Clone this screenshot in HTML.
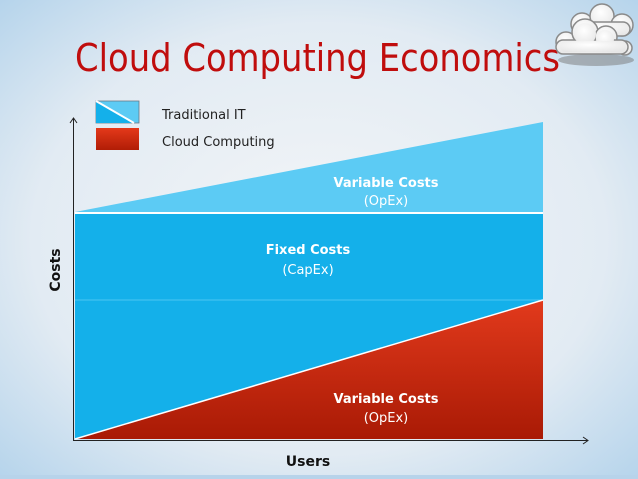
<!DOCTYPE html>
<html><head><meta charset="utf-8"><style>
html,body{margin:0;padding:0;width:638px;height:479px;overflow:hidden}
</style></head><body>
<svg width="638" height="479" viewBox="0 0 638 479" xmlns="http://www.w3.org/2000/svg" font-family="'DejaVu Sans','Liberation Sans',sans-serif">
<defs>
<radialGradient id="bg" cx="0.5" cy="0.5" r="0.75">
<stop offset="0" stop-color="#f3f5f7"/><stop offset="0.6" stop-color="#e2ebf3"/><stop offset="1" stop-color="#aed0ea"/>
</radialGradient>
<linearGradient id="red" x1="0" y1="0" x2="0" y2="1">
<stop offset="0" stop-color="#e23a1c"/><stop offset="1" stop-color="#a91a05"/>
</linearGradient>
<linearGradient id="lred" x1="0" y1="0" x2="0" y2="1">
<stop offset="0" stop-color="#e4391a"/><stop offset="1" stop-color="#b11d06"/>
</linearGradient>
<radialGradient id="cl" cx="0.45" cy="0.35" r="0.7"><stop offset="0" stop-color="#fff"/><stop offset="1" stop-color="#e6e6e6"/></radialGradient>
</defs>
<rect width="638" height="479" fill="url(#bg)"/>
<rect y="475" width="638" height="4" fill="#b7d3ea"/>
<!-- title -->
<text x="75" y="71" font-family="'DejaVu Sans Condensed','DejaVu Sans',sans-serif" font-size="38" fill="#c00d0d" textLength="485" lengthAdjust="spacingAndGlyphs">Cloud Computing Economics</text>
<!-- clouds -->
<ellipse cx="596" cy="60" rx="38" ry="6" fill="#777" opacity="0.5"/>
<g stroke="#8a8a8a" stroke-width="1.5" fill="url(#cl)">
<circle cx="582" cy="24" r="11"/><circle cx="602" cy="16" r="12"/><circle cx="622" cy="25" r="11"/><rect x="575" y="22" width="55" height="14" rx="7"/>
</g>
<g stroke="#8a8a8a" stroke-width="1.5" fill="url(#cl)">
<circle cx="566" cy="42" r="10"/><circle cx="585" cy="32" r="13"/><circle cx="606" cy="37" r="11"/><circle cx="625" cy="48" r="7"/><rect x="556" y="40" width="72" height="14" rx="7"/>
</g>
<g fill="url(#cl)"><circle cx="585" cy="34" r="11"/><circle cx="605" cy="39" r="9"/><rect x="560" y="41" width="66" height="11" rx="5"/></g>
<!-- legend -->
<rect x="96" y="101" width="43" height="22" fill="#5ccbf4" stroke="#6a7a88" stroke-width="0.8"/>
<polygon points="96,101 96,123 134,123" fill="#14b0ea"/>
<line x1="96" y1="101" x2="134" y2="123" stroke="#fff" stroke-width="2"/>
<rect x="96" y="128" width="43" height="22" fill="url(#lred)"/>
<text x="162" y="119" font-size="13" fill="#222">Traditional IT</text>
<text x="162" y="146" font-size="13" fill="#222">Cloud Computing</text>
<!-- chart -->
<polygon points="75,212 543,122 543,212" fill="#5ccbf4"/>
<rect x="75" y="214" width="468" height="225" fill="#14b0ea"/>
<line x1="75" y1="213" x2="543" y2="213" stroke="#fff" stroke-width="2"/>
<line x1="75" y1="300" x2="543" y2="300" stroke="#4cc6f3" stroke-width="1"/>
<polygon points="75,439 543,300 543,439" fill="url(#red)"/>
<line x1="75" y1="439" x2="543" y2="300" stroke="#fff" stroke-width="1.5"/>
<!-- axes -->
<line x1="73.5" y1="118" x2="73.5" y2="440" stroke="#222" stroke-width="1"/>
<polyline points="70,123 73.5,118 77,123" fill="none" stroke="#222"/>
<line x1="73" y1="440.5" x2="588" y2="440.5" stroke="#222" stroke-width="1"/>
<polyline points="583,437 588,440.5 583,444" fill="none" stroke="#222"/>
<!-- labels -->
<g fill="#fff" text-anchor="middle" font-size="13">
<text x="386" y="187" font-weight="bold">Variable Costs</text>
<text x="386" y="205">(OpEx)</text>
<text x="308" y="254" font-weight="bold">Fixed Costs</text>
<text x="308" y="274">(CapEx)</text>
<text x="386" y="403" font-weight="bold">Variable Costs</text>
<text x="386" y="422">(OpEx)</text>
</g>
<text x="308" y="466" font-size="14" font-weight="bold" fill="#111" text-anchor="middle">Users</text>
<text transform="translate(60,270) rotate(-90)" font-size="14" font-weight="bold" fill="#111" text-anchor="middle">Costs</text>
</svg>
</body></html>
